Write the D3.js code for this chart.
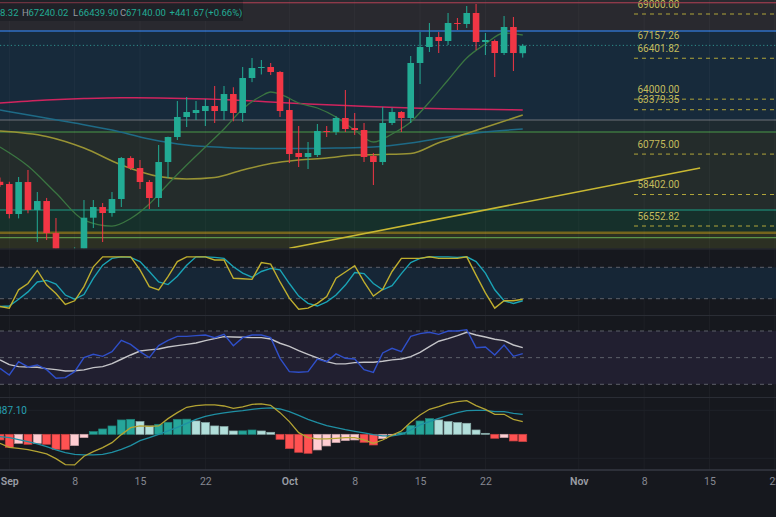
<!DOCTYPE html>
<html><head><meta charset="utf-8">
<script src="https://cdn.jsdelivr.net/npm/d3@7"></script>
<style>
html,body{margin:0;padding:0;background:#16181e;overflow:hidden;}
svg{display:block;font-family:Roboto,"Noto Sans",sans-serif;}
</style></head><body>
<svg id="c" width="776" height="517"></svg>
<script>
// ---------- DATA ----------
const days = d3.utcDay.range(new Date(Date.UTC(2024,7,31)), new Date(Date.UTC(2024,9,27))); // Aug 31 .. Oct 26

const open  = [59150,59018,57256,59135,57491,58019,56140,53950,54160,54870,57040,57667,57315,58137,60544,59957,59135,58196,60309,61777,62952,63187,63304,63598,63304,64302,63187,65242,65829,65888,65594,63363,60838,60603,60720,62130,62071,62893,62306,62188,60662,60309,62600,63245,62893,66123,67062,67649,67415,68472,68413,69059,67356,67415,66710,68237,66698];
const high  = [59400,59150,59428,59840,58548,58200,57021,54850,55300,58078,58078,57900,58548,60603,60650,60427,59252,61308,61800,63891,64126,63891,64009,64772,64772,64700,65888,66416,66300,66123,65650,64000,62423,61484,62541,62423,63000,64537,63187,62600,60838,63539,63500,63300,66534,67943,68472,67943,69059,68765,69470,69587,67884,67500,68883,68824,67240];
const low   = [58850,57000,57000,57300,55611,55729,52600,53740,53650,54600,56434,55611,57100,57667,59840,58724,57549,57667,59370,61601,62364,62776,62423,62600,62776,62700,62658,65000,65450,65420,62952,60251,60016,59898,60603,61777,61895,62071,61895,60309,58959,60133,62480,62071,62600,64890,66769,66710,67180,68060,68178,66886,66592,65301,66592,65653,66440];
const close = [58960,57256,59135,57491,58019,56140,53950,54160,54870,57040,57667,57315,58137,60544,59957,59135,58196,60309,61777,62952,63245,63363,63598,63304,64302,63187,65242,65829,65888,65594,63304,60779,60603,60838,62130,62071,62893,62247,62188,60603,60309,62600,63245,62893,66123,67062,67649,67415,68472,68413,69059,67356,67473,66710,68237,66710,67140];

// moving averages (index into days, price)
const maPinkIdx  = [0,5,9,13,17,21,25,29,33,37,41,45,49,53,56];
const maPink     = [63774,63950,64038,64085,64067,64021,63950,63833,63715,63627,63539,63463,63422,63392,63363];
const maTealIdx  = [0,4,8,12,16,20,24,28,32,36,40,44,48,52,56];
const maTeal     = [63363,62981,62600,62188,61660,61308,61161,61102,61102,61131,61190,61425,61777,62071,62247];
const maYellowIdx= [0,5,9,13,17,20,23,26,29,32,35,38,41,44,47,50,53,56];
const maYellow   = [62130,61807,61131,60133,59458,59311,59399,59840,60222,60427,60544,60720,60750,60808,61443,61983,62529,63069];
const maGreenIdx = [0,3,6,9,12,14,16,18,20,22,24,26,28,29,30,32,34,36,38,40,42,44,46,48,50,52,54,56];
const maGreen    = [61190,60075,58489,56903,56551,56992,57843,59018,60133,61190,62247,63422,64185,64420,64302,63774,63480,62952,62188,61484,61954,62658,63833,65125,66416,67238,67884,67767];

const trendDates  = [new Date(Date.UTC(2024,9,1)), new Date(Date.UTC(2024,10,14))];
const trendPrices = [55250, 59957];

// horizontal zone lines (price)
const zoneRed = 69664, zoneBlue = 68002, zoneGrey = 62776, zoneGreen = 62071, zoneTeal = 57491, zoneOlive = 56158, zoneGreen2 = 55876;

const levelPrices = [69000.00, 67157.26, 66401.82, 64000.00, 63379.35, 60775.00, 58402.00, 56552.82];
const levelDashed = [true, false, true, true, true, true, true, true];
const lastPrice = 67157.26;

// Stochastic RSI
const stochK = [5,2,37,49,74,46,30,9,16,43,81,100,100,100,100,75,43,37,62,91,100,100,100,94,94,59,58,57,89,86,52,21,0,2,11,24,59,71,83,52,25,38,72,97,97,97,100,97,97,97,100,65,31,2,16,16,19];
const stochD = [5,6,19,33,52,55,48,27,19,28,59,84,97,100,99,91,72,52,47,63,84,100,100,99,97,81,69,61,72,78,75,49,25,11,6,14,27,46,70,68,49,37,45,68,89,97,100,100,100,99,100,91,69,37,16,11,16];
const stochLevels = [80, 20];

// RSI
const rsi   = [42,37,47,43,44.5,41,34.5,35,39.5,50,52.5,51,54.5,63,60,54.5,50,59,63,66,66,66.5,67,65,67.5,59,65,67,67,65,49.5,39.5,39,39.5,49,47,52.8,49.5,49,41,39,53.5,57,54.5,66,68,69,67.5,70,70,71,57.5,58,52,59.5,51,53];
const rsiMA = [48.3,44.8,43.3,43,42.8,41.8,41,40,40.2,40.8,42.5,43.3,45.5,48.8,52,55,55.8,56.5,58,59,60,61,62.8,64.3,65.8,65.5,65.3,65,65,64,60.8,58.5,55.3,52.5,49.8,47,45.3,45.3,46.3,46.5,46.5,47.3,48.3,49,50.8,54,58.3,62.3,64.3,66.5,69,67,65.5,63.8,62.8,59.5,57.5];
const rsiLevels = [70, 50, 30];

// MACD
const macdHist = [-189,-433,-300,-333,-300,-333,-500,-505,-378,-111,89,178,278,478,500,422,278,333,400,500,505,444,389,278,256,111,115,144,111,67,-167,-478,-600,-633,-522,-389,-278,-211,-189,-267,-356,-145,-22,56,289,444,522,478,422,389,367,144,33,-133,-111,-222,-244];
const macdLine = [-300,-433,-467,-511,-578,-655,-810,-1010,-1020,-730,-578,-444,-278,-11,222,278,267,278,522,722,900,955,978,978,944,867,911,1000,1011,967,722,422,56,-111,-155,-155,-133,-111,-111,-189,-300,-190,-30,111,400,644,833,922,1033,1089,1122,955,833,667,667,500,422];
const macdSignal = [-78,-111,-178,-244,-322,-411,-522,-611,-667,-689,-689,-667,-600,-500,-378,-211,-111,0,111,233,367,500,600,667,711,755,789,833,867,878,844,755,633,500,389,289,222,155,100,44,-11,-55,-55,0,144,311,422,533,633,722,789,800,800,755,755,700,667];
const macdLabel = "887.10";

// header
const hdrOpenTail = "8.32", hdrHigh = "67240.02", hdrLow = "66439.90", hdrClose = "67140.00", hdrChange = "+441.67", hdrPct = "(+0.66%)";

// x axis ticks
const tickDates = [[2024,8,1],[2024,8,8],[2024,8,15],[2024,8,22],[2024,9,1],[2024,9,8],[2024,9,15],[2024,9,22],[2024,10,1],[2024,10,8],[2024,10,15],[2024,10,22]].map(a=>new Date(Date.UTC(a[0],a[1],a[2])));
const tickLabels = ["Sep","8","15","22","Oct","8","15","22","Nov","8","15","22"];

// ---------- CHART ----------
const W = 776, H = 517;
const svg = d3.select("#c");
const MAIN_B = 248.5, ST_T = 249.5, ST_B = 315.5, RS_T = 316.5, RS_B = 397.5, MC_T = 398.5, MC_B = 470;

const x = d3.scaleUtc().domain([new Date(Date.UTC(2024,8,1)), new Date(Date.UTC(2024,10,22))]).range([9.3, 774.8]);
const yP = d3.scaleLinear().domain([56552.82, 69000]).range([226, 14]);
const yS = d3.scaleLinear().domain([20, 80]).range([298.7, 267.3]);
const yR = d3.scaleLinear().domain([30, 70]).range([384.3, 331]);
const yM = d3.scaleLinear().domain([0, 1000]).range([434.3, 404.3]);

const defs = svg.append("defs");
defs.append("clipPath").attr("id","cMain").append("rect").attr("x",0).attr("y",0).attr("width",W).attr("height",MAIN_B);
defs.append("clipPath").attr("id","cSt").append("rect").attr("x",0).attr("y",ST_T).attr("width",W).attr("height",ST_B-ST_T);
defs.append("clipPath").attr("id","cRs").append("rect").attr("x",0).attr("y",RS_T).attr("width",W).attr("height",RS_B-RS_T);
defs.append("clipPath").attr("id","cMc").append("rect").attr("x",0).attr("y",MC_T).attr("width",W).attr("height",MC_B-MC_T);

svg.append("rect").attr("width",W).attr("height",H).attr("fill","#16181e");

// main zones
const main = svg.append("g").attr("clip-path","url(#cMain)");
const zones = [
  [70500, zoneBlue, "#29292f"],
  [zoneBlue, zoneGrey, "#172a3b"],
  [zoneGrey, zoneGreen, "#1e2a30"],
  [zoneGreen, zoneTeal, "#242c2b"],
  [zoneTeal, zoneOlive, "#16302b"],
  [zoneOlive, 50000, "#2c3023"]
];
zones.forEach(z => main.append("rect").attr("x",0).attr("width",W)
  .attr("y", yP(z[0])).attr("height", yP(z[1]) - yP(z[0])).attr("fill", z[2]));

// vertical grid
const grid = svg.append("g");
tickDates.forEach(d => grid.append("line").attr("x1",x(d)).attr("x2",x(d)).attr("y1",0).attr("y2",MC_B)
  .attr("stroke","#ffffff").attr("stroke-opacity",0.035));

// zone lines
const zl = [
  [zoneRed, "#8e3b4a", 1.3],
  [zoneBlue, "#2f6fc4", 1.6],
  [zoneGrey, "#6e727a", 1.2],
  [zoneGreen, "#4a9a48", 1.2],
  [zoneTeal, "#1d7a68", 1.6],
  [zoneOlive, "#75651d", 2.4],
  [zoneGreen2, "#5c9448", 1.2]
];
zl.forEach(l => main.append("line").attr("x1",0).attr("x2",W).attr("y1",yP(l[0])).attr("y2",yP(l[0]))
  .attr("stroke",l[1]).attr("stroke-width",l[2]));

// dotted last-price line
main.append("line").attr("x1",0).attr("x2",W).attr("y1",yP(lastPrice)).attr("y2",yP(lastPrice))
  .attr("stroke","#2f8f8c").attr("stroke-width",1).attr("stroke-dasharray","1.2,2.4");

// MAs
function maLine(idx, vals, color, w){
  const pts = idx.map((k,i)=>[x(days[k]), yP(vals[i])]);
  main.append("path").attr("d", d3.line().curve(d3.curveMonotoneX)(pts))
    .attr("fill","none").attr("stroke",color).attr("stroke-width",w);
}
maLine(maTealIdx, maTeal, "#1e6a86", 1.5);
maLine(maYellowIdx, maYellow, "#989334", 1.5);
maLine(maPinkIdx, maPink, "#d0245e", 1.6);
maLine(maGreenIdx, maGreen, "#3a7541", 1.3);

// trendline
main.append("line").attr("x1",x(trendDates[0])).attr("y1",yP(trendPrices[0]))
  .attr("x2",x(trendDates[1])).attr("y2",yP(trendPrices[1]))
  .attr("stroke","#c8b832").attr("stroke-width",1.5);

// candles
const UP = "#22ab94", DN = "#f23645";
const cg = main.append("g");
days.forEach((d,i) => {
  const up = close[i] >= open[i];
  const col = up ? UP : DN;
  const cx = x(d);
  cg.append("line").attr("x1",cx).attr("x2",cx).attr("y1",yP(high[i])).attr("y2",yP(low[i]))
    .attr("stroke",col).attr("stroke-width",1);
  const yt = yP(Math.max(open[i],close[i])), yb = yP(Math.min(open[i],close[i]));
  cg.append("rect").attr("x",cx-3.3).attr("width",6.6).attr("y",yt).attr("height",Math.max(1,yb-yt)).attr("fill",col);
});

// level labels + dashes
levelPrices.forEach((p,i) => {
  const yy = yP(p);
  if (levelDashed[i]) main.append("line").attr("x1",634).attr("x2",W).attr("y1",yy).attr("y2",yy)
    .attr("stroke","#b0a53a").attr("stroke-width",1).attr("stroke-dasharray","4,4");
  main.append("text").attr("x",637.5).attr("y",yy-6.5).attr("font-size",10).attr("fill","#c3bb5c")
    .text(p.toFixed(2));
});

// header
svg.append("rect").attr("x",0).attr("y",0).attr("width",243).attr("height",21).attr("fill","#1f2127");
svg.append("line").attr("x1",0).attr("x2",W).attr("y1",yP(zoneRed)).attr("y2",yP(zoneRed)).attr("stroke","#8e3b4a").attr("stroke-width",1.3).attr("stroke-opacity",0.7);
const ht = svg.append("text").attr("y",16).attr("font-size",9.5);
const G = "#22ab94", GR = "#9598a1";
[[0,hdrOpenTail,G],[22,"H",GR],[28.5,hdrHigh,G],[73,"L",GR],[78.5,hdrLow,G],[120,"C",GR],[126,hdrClose,G],[169.5,hdrChange,G],[205,hdrPct,G]]
  .forEach(s => ht.append("tspan").attr("x",s[0]).attr("fill",s[2]).text(s[1]));

// separators
[[MAIN_B+0.5,"#2a2d35"],[ST_B,"#2a2d35"],[RS_B,"#2a2d35"]].forEach(s =>
  svg.append("line").attr("x1",0).attr("x2",W).attr("y1",s[0]).attr("y2",s[0]).attr("stroke",s[1]).attr("stroke-width",1.2));
svg.append("line").attr("x1",0).attr("x2",W).attr("y1",MC_B).attr("y2",MC_B).attr("stroke","#363943").attr("stroke-width",1.6);

// ----- Stoch panel -----
const st = svg.append("g").attr("clip-path","url(#cSt)");
st.append("rect").attr("x",0).attr("width",W).attr("y",yS(stochLevels[0])).attr("height",yS(stochLevels[1])-yS(stochLevels[0])).attr("fill","#162636");
stochLevels.forEach(v => st.append("line").attr("x1",0).attr("x2",W).attr("y1",yS(v)).attr("y2",yS(v))
  .attr("stroke","#5d6069").attr("stroke-dasharray","4,4"));
const lineGen = (ys, arr) => d3.line().x((v,i)=>x(days[i])).y(v=>ys(v))(arr);
st.append("path").attr("d",lineGen(yS,stochD)).attr("fill","none").attr("stroke","#1aa3b5").attr("stroke-width",1.4);
st.append("path").attr("d",lineGen(yS,stochK)).attr("fill","none").attr("stroke","#bfae2e").attr("stroke-width",1.4);

// ----- RSI panel -----
const rs = svg.append("g").attr("clip-path","url(#cRs)");
rs.append("rect").attr("x",0).attr("width",W).attr("y",yR(70)).attr("height",yR(30)-yR(70)).attr("fill","#211f30");
rsiLevels.forEach(v => rs.append("line").attr("x1",0).attr("x2",W).attr("y1",yR(v)).attr("y2",yR(v))
  .attr("stroke","#5d6069").attr("stroke-dasharray","4,4"));
rs.append("path").attr("d",lineGen(yR,rsiMA)).attr("fill","none").attr("stroke","#c4c4c8").attr("stroke-width",1.4);
rs.append("path").attr("d",lineGen(yR,rsi)).attr("fill","none").attr("stroke","#2f4fc9").attr("stroke-width",1.4);

// ----- MACD panel -----
const mc = svg.append("g").attr("clip-path","url(#cMc)");
[-800, 800].forEach(v => mc.append("line").attr("x1",0).attr("x2",W).attr("y1",yM(v)).attr("y2",yM(v)).attr("stroke","#1f2229"));
function histColor(i){
  const v = macdHist[i], p = i>0 ? macdHist[i-1] : null;
  if (v >= 0) return (p===null || v > p) ? "#26a69a" : "#b2dfdb";
  return (p===null || v < p) ? "#ff5252" : "#ffcdd2";
}
days.forEach((d,i) => {
  const v = macdHist[i], c = histColor(i);
  const y0 = yM(0), y1 = yM(v);
  mc.append("rect").attr("x",x(d)-4).attr("width",8).attr("y",Math.min(y0,y1)).attr("height",Math.abs(y1-y0))
    .attr("fill",c).attr("stroke",d3.color(c).darker(0.7)).attr("stroke-width",0.7);
});
mc.append("path").attr("d",lineGen(yM,macdSignal)).attr("fill","none").attr("stroke","#1f8fa3").attr("stroke-width",1.3);
mc.append("path").attr("d",lineGen(yM,macdLine)).attr("fill","none").attr("stroke","#b3a333").attr("stroke-width",1.3);
svg.append("text").attr("x",27).attr("y",413.5).attr("text-anchor","end").attr("font-size",10).attr("fill","#26a0b2").text(macdLabel);

// ----- x axis -----
const ax = svg.append("g").attr("transform",`translate(0,${MC_B})`)
  .call(d3.axisBottom(x).tickValues(tickDates).tickFormat((d,i)=>tickLabels[i]).tickSize(0).tickPadding(7.5));
ax.select(".domain").remove();
ax.selectAll("text").attr("font-size",10.5).attr("font-family","Roboto,'Noto Sans',sans-serif")
  .attr("fill",(d,i)=> isNaN(+tickLabels[i]) ? "#9a9da5" : "#868992")
  .attr("font-weight",(d,i)=> isNaN(+tickLabels[i]) ? 600 : 400);
</script>
</body></html>
